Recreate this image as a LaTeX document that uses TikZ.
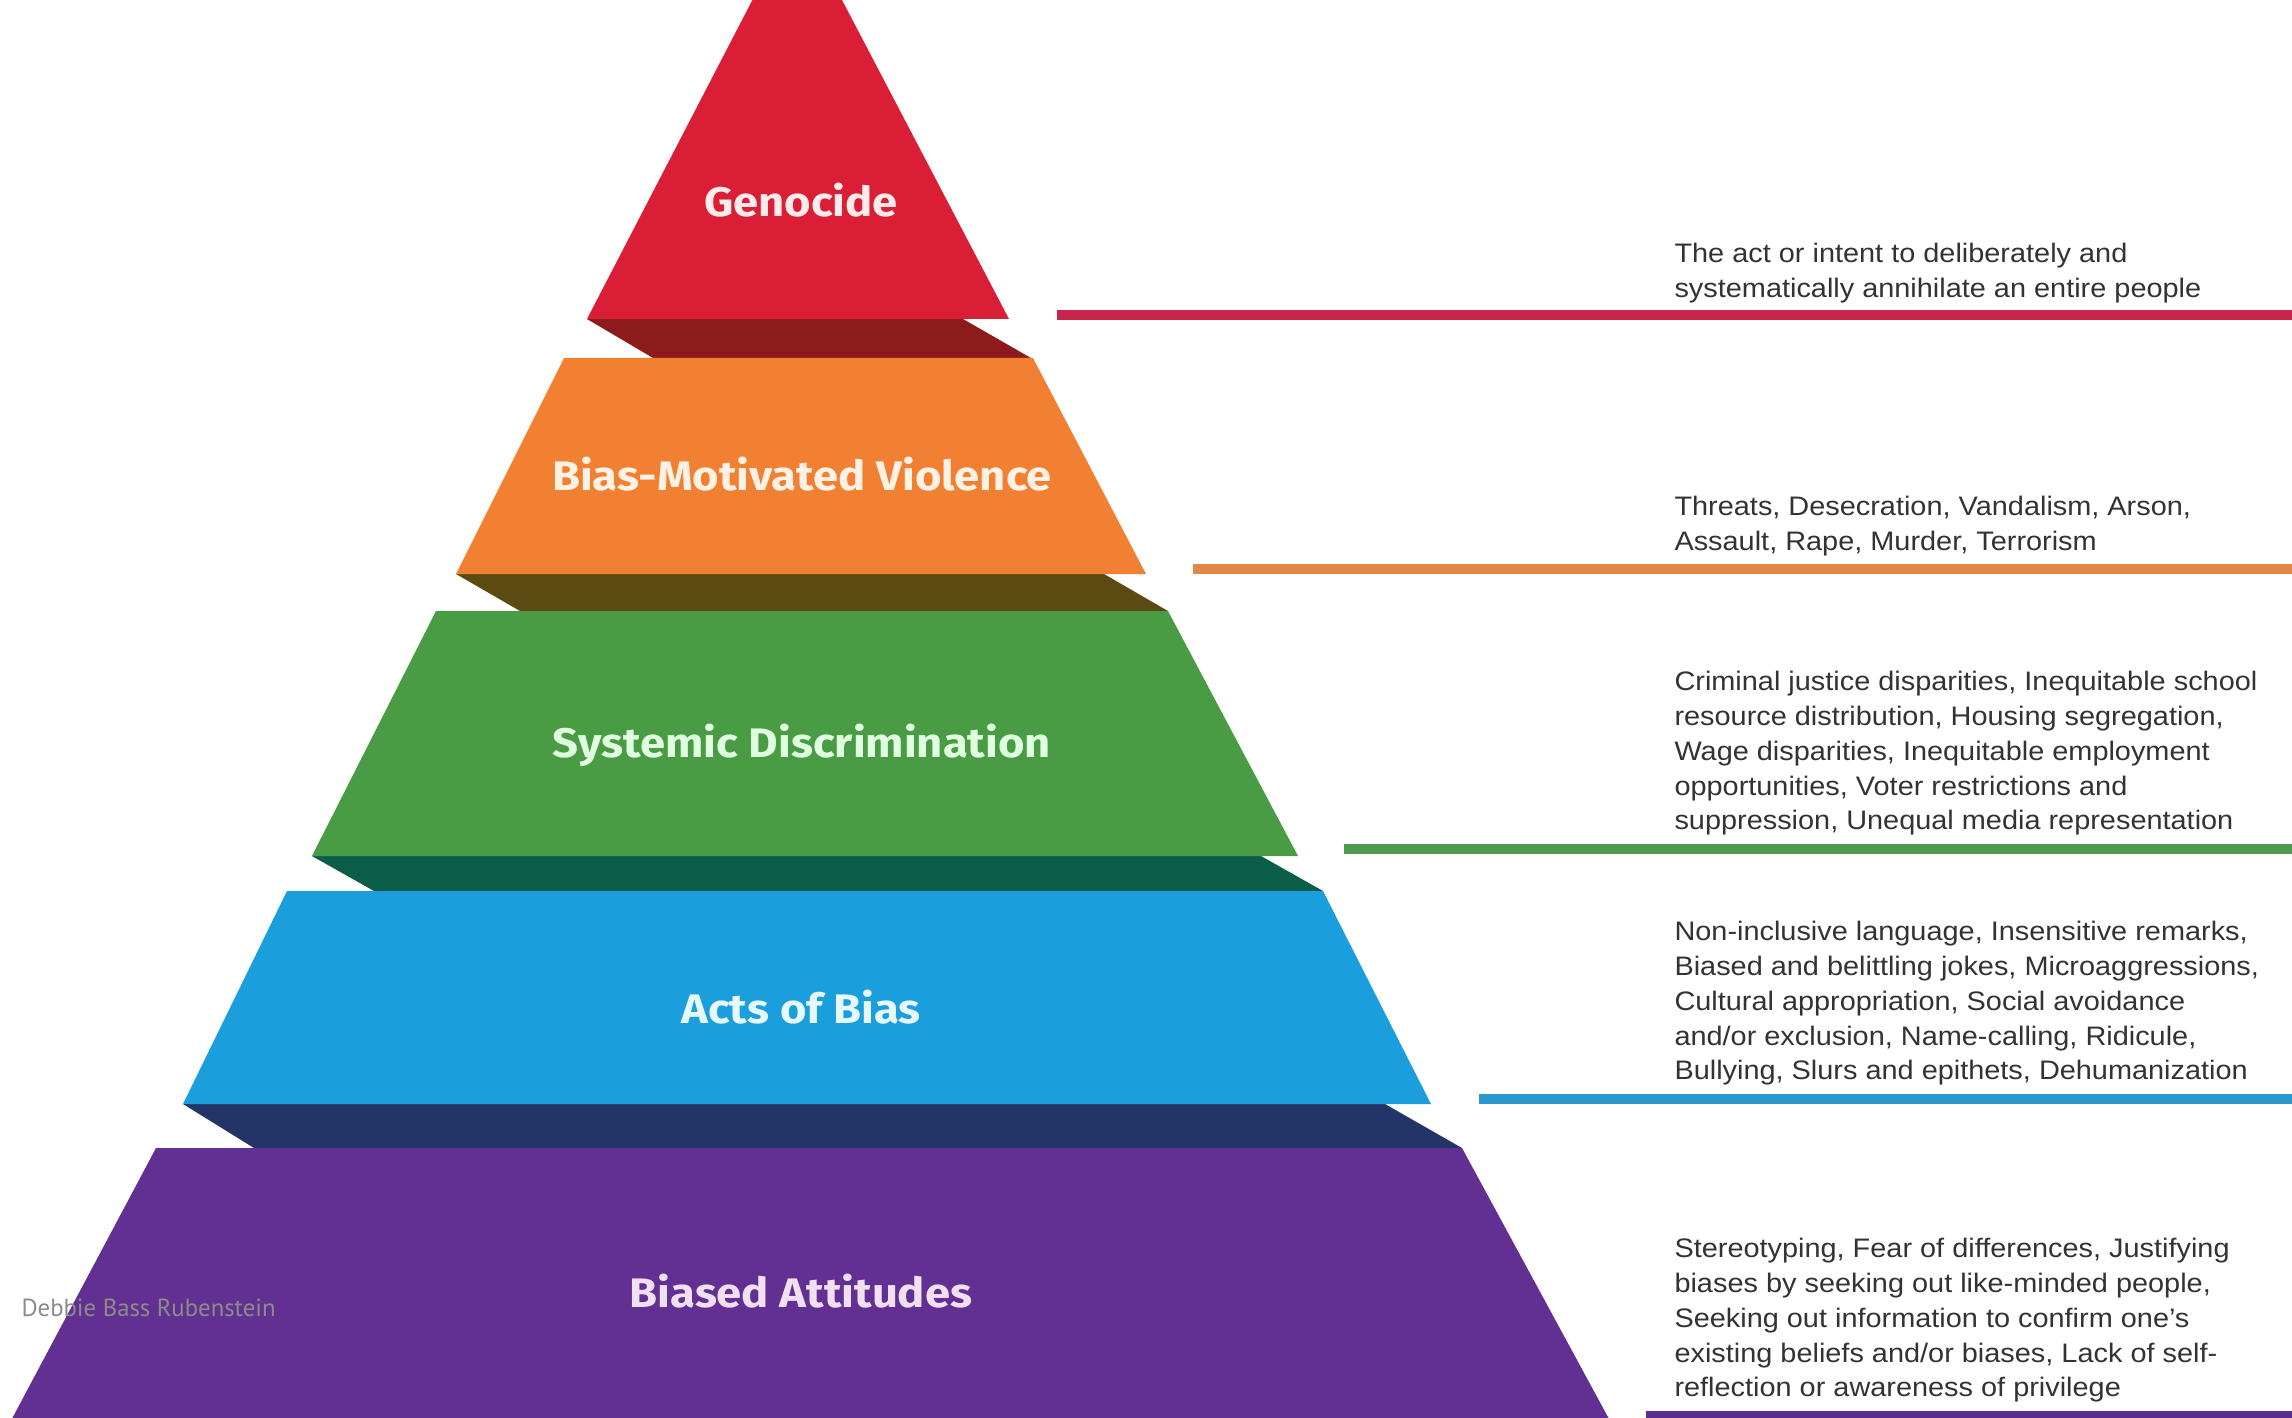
\documentclass[tikz,border=0pt]{standalone}
\usepackage{fontspec}
\setmainfont{Liberation Sans}[FakeStretch=1.08]
\newfontfamily\labelfont{Fira Sans}[FakeStretch=1.1]
\newfontfamily\wmfont{PT Sans}
\definecolor{cRed}{HTML}{D91E36}
\definecolor{cRedD}{HTML}{8E1B1C}
\definecolor{cOra}{HTML}{F28032}
\definecolor{cOraD}{HTML}{5B4A12}
\definecolor{cGre}{HTML}{4A9C44}
\definecolor{cGreD}{HTML}{0A5E48}
\definecolor{cBlu}{HTML}{1B9FDC}
\definecolor{cBluD}{HTML}{233469}
\definecolor{cPur}{HTML}{622F93}
\definecolor{lRed}{HTML}{C8234A}
\definecolor{lOra}{HTML}{E0874A}
\definecolor{lGre}{HTML}{4F9A4E}
\definecolor{lBlu}{HTML}{2A98CF}
\definecolor{lPur}{HTML}{5B2E8C}
\definecolor{txt}{HTML}{333333}
\definecolor{wm}{HTML}{8C8D86}
\begin{document}
\begin{tikzpicture}[x=0.4pt,y=-0.4pt,
  lvl/.style={font=\labelfont\bfseries\fontsize{16.5pt}{19pt}\selectfont, anchor=base, inner sep=0pt},
  desc/.style={font=\fontsize{10.7pt}{13.9pt}\selectfont, text=txt, anchor=north west, align=left, inner sep=0pt},
  rule/.style={line width=4pt}]
\useasboundingbox (0,0) rectangle (2292,1418);
\clip (0,0) rectangle (2292,1418);
\fill[white] (0,0) rectangle (2292,1418);
% dark bands
\fill[cRedD] (587,319) -- (963,319) -- (1031,358) -- (653,358) -- cycle;
\fill[cOraD] (456,574) -- (1104,574) -- (1168,611) -- (520,611) -- cycle;
\fill[cGreD] (312,856) -- (1261,856) -- (1323,891) -- (374,891) -- cycle;
\fill[cBluD] (183,1104) -- (1385,1104) -- (1462,1148) -- (254,1148) -- cycle;
% slabs
\fill[cRed] (797,-86) -- (1009,319) -- (587,319) -- cycle;
\fill[cOra] (564,358) -- (1033,358) -- (1146,574) -- (456,574) -- cycle;
\fill[cGre] (436,611) -- (1168,611) -- (1298,856) -- (312,856) -- cycle;
\fill[cBlu] (287,891) -- (1323,891) -- (1431,1104) -- (183,1104) -- cycle;
\fill[cPur] (156,1148) -- (1462,1148) -- (1615,1430) -- (6,1430) -- cycle;
% labels
\node[lvl, text=red!8!white] (gen) at (801,217) {Genocide};
\node[lvl, text=orange!10!white] (vio) at (802,490) {Bias-Motivated Violence};
\node[lvl, text=green!12!white] (sys) at (802,757) {Systemic Discrimination};
\node[lvl, text=cyan!10!white] (act) at (801,1023) {Acts of Bias};
\node[lvl, text=violet!12!white] (att) at (801,1307) {Biased Attitudes};
% rules
\coordinate (r1a) at (1057,315); \coordinate (r1b) at (2292,315);
\coordinate (r2a) at (1193,569); \coordinate (r2b) at (2292,569);
\coordinate (r3a) at (1344,849); \coordinate (r3b) at (2292,849);
\coordinate (r4a) at (1479,1099); \coordinate (r4b) at (2292,1099);
\coordinate (r5a) at (1646,1416); \coordinate (r5b) at (2292,1416);
\draw[rule, lRed] (r1a) -- (r1b);
\draw[rule, lOra] (r2a) -- (r2b);
\draw[rule, lGre] (r3a) -- (r3b);
\draw[rule, lBlu] (r4a) -- (r4b);
\draw[rule, lPur] (r5a) -- (r5b);
% descriptions
\node[desc] (d1) at (1674,243) {The act or intent to deliberately and\\systematically annihilate an entire people};
\node[desc] (d2) at (1674,496) {Threats, Desecration, Vandalism, Arson,\\Assault, Rape, Murder, Terrorism};
\node[desc] (d3) at (1674,671) {Criminal justice disparities, Inequitable school\\resource distribution, Housing segregation,\\Wage disparities, Inequitable employment\\opportunities, Voter restrictions and\\suppression, Unequal media representation};
\node[desc] (d4) at (1674,921) {Non-inclusive language, Insensitive remarks,\\Biased and belittling jokes, Microaggressions,\\Cultural appropriation, Social avoidance\\and/or exclusion, Name-calling, Ridicule,\\Bullying, Slurs and epithets, Dehumanization};
\node[desc] (d5) at (1674,1238) {Stereotyping, Fear of differences, Justifying\\biases by seeking out like-minded people,\\Seeking out information to confirm one's\\existing beliefs and/or biases, Lack of self-\\reflection or awareness of privilege};
% watermark
\node[font=\wmfont\fontsize{9.9pt}{12pt}\selectfont, text=wm, anchor=base west, inner sep=0pt] (wmk) at (21,1316) {Debbie Bass Rubenstein};
\end{tikzpicture}
\end{document}
